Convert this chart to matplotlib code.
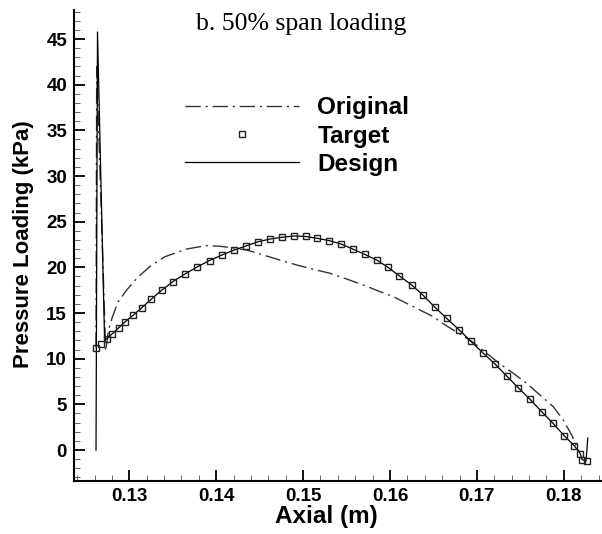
import matplotlib
matplotlib.use("Agg")
import matplotlib.pyplot as plt
from matplotlib.ticker import MultipleLocator

# ---- data ----
target_x = [0.12617, 0.12674, 0.12738, 0.12801, 0.12876, 0.12956, 0.13048, 0.13146,
            0.13255, 0.13376, 0.13503, 0.13641, 0.13779, 0.13923, 0.14067, 0.14205,
            0.14343, 0.14484, 0.14619, 0.14754, 0.14895, 0.15030, 0.15163, 0.15302,
            0.15436, 0.15571, 0.15712, 0.15847, 0.15977, 0.16109, 0.16250, 0.16383,
            0.16518, 0.16652, 0.16797, 0.16929, 0.17067, 0.17208, 0.17343, 0.17476,
            0.17611, 0.17746, 0.17876, 0.18008, 0.18123, 0.18192, 0.18209, 0.18267]
target_y = [11.22, 11.61, 12.15, 12.70, 13.36, 14.07, 14.78, 15.60,
            16.53, 17.52, 18.45, 19.27, 20.04, 20.75, 21.35, 21.90,
            22.34, 22.81, 23.10, 23.29, 23.43, 23.38, 23.18, 22.92,
            22.56, 22.01, 21.41, 20.80, 20.00, 19.05, 18.07, 16.92,
            15.62, 14.42, 13.14, 11.93, 10.65, 9.42, 8.10, 6.82,
            5.55, 4.19, 2.92, 1.53, 0.44, -0.44, -1.04, -1.20]

design_x = [0.12617, 0.12634, 0.12715, 0.12738, 0.12801, 0.12876, 0.12956, 0.13048,
            0.13146, 0.13255, 0.13376, 0.13503, 0.13641, 0.13779, 0.13923, 0.14067,
            0.14205, 0.14343, 0.14484, 0.14619, 0.14754, 0.14895, 0.15030, 0.15163,
            0.15302, 0.15436, 0.15571, 0.15712, 0.15847, 0.15977, 0.16109, 0.16250,
            0.16383, 0.16518, 0.16652, 0.16797, 0.16929, 0.17067, 0.17208, 0.17343,
            0.17476, 0.17611, 0.17746, 0.17876, 0.18008, 0.18123, 0.18192, 0.18209,
            0.18256, 0.18276]
design_y = [0.0, 45.77, 12.26, 12.15, 12.70, 13.36, 14.07, 14.78,
            15.60, 16.53, 17.52, 18.45, 19.27, 20.04, 20.75, 21.35,
            21.90, 22.34, 22.81, 23.10, 23.29, 23.43, 23.38, 23.18,
            22.92, 22.56, 22.01, 21.41, 20.80, 20.00, 19.05, 18.07,
            16.92, 15.62, 14.42, 13.14, 11.93, 10.65, 9.42, 8.10,
            6.82, 5.55, 4.19, 2.92, 1.53, 0.44, -0.44, -1.04,
            -1.20, 1.31]

original_x = [0.12617, 0.12625, 0.12728, 0.12761, 0.12801, 0.12870, 0.12970, 0.13100,
              0.13258, 0.13411, 0.13661, 0.13891, 0.14044, 0.14197, 0.14351, 0.14542,
              0.14734, 0.14926, 0.15117, 0.15310, 0.15502, 0.15693, 0.15887, 0.16038,
              0.16230, 0.16498, 0.16652, 0.16806, 0.16958, 0.17113, 0.17266, 0.17419,
              0.17573, 0.17726, 0.17879, 0.17994, 0.18091, 0.18148, 0.18181]
original_y = [11.22, 41.97, 10.84, 13.14, 14.45, 16.20, 17.52, 18.94,
              20.26, 21.17, 22.01, 22.39, 22.31, 22.12, 21.90, 21.35,
              20.80, 20.26, 19.79, 19.35, 18.72, 18.07, 17.33, 16.79,
              15.88, 14.60, 13.58, 12.70, 11.77, 10.59, 9.42, 8.40,
              7.30, 6.02, 4.74, 3.28, 1.64, 0.36, -0.22]

x_ticks = [0.13, 0.14, 0.15, 0.16, 0.17, 0.18]
x_tick_labels = ["0.13", "0.14", "0.15", "0.16", "0.17", "0.18"]
y_ticks = [0, 5, 10, 15, 20, 25, 30, 35, 40, 45]
y_tick_labels = [str(v) for v in y_ticks]

# ---- figure ----
W, H = 602, 534
fig = plt.figure(figsize=(W / 100, H / 100), dpi=100)
ax = fig.add_axes([74 / W, (H - 481) / H, (602 - 74) / W, (481 - 10) / H])

sans = ["Liberation Sans", "DejaVu Sans"]
serif = ["Liberation Serif", "DejaVu Serif"]

ax.plot(original_x, original_y, color="#333333", lw=1.0,
        dashes=(11, 3.5, 1.5, 3.5), label="Original", zorder=2)
ax.plot(target_x, target_y, linestyle="none", marker="s", markersize=4.5,
        markerfacecolor="none", markeredgecolor="#222222", markeredgewidth=1.0,
        label="Target", zorder=3)
ax.plot(design_x, design_y, color="black", lw=0.9, label="Design", zorder=2)

ax.set_xlim(0.123636, 0.184396)
ax.set_ylim(-3.394, 48.18)

for s in ("top", "right"):
    ax.spines[s].set_visible(False)
for s in ("left", "bottom"):
    ax.spines[s].set_linewidth(1.5)

ax.set_xticks(x_ticks)
ax.set_xticklabels(x_tick_labels)
ax.set_yticks(y_ticks)
ax.set_yticklabels(y_tick_labels)
ax.xaxis.set_minor_locator(MultipleLocator(0.002))
ax.yaxis.set_minor_locator(MultipleLocator(1))
ax.tick_params(which="major", direction="in", length=8.2, width=1.3,
               labelsize=13.5, pad=5)
ax.tick_params(which="minor", direction="in", length=4.5, width=0.7,
               color="#666666")
for lab in ax.get_xticklabels() + ax.get_yticklabels():
    lab.set_fontfamily(sans)
    lab.set_fontweight("bold")

ax.set_xlabel("Axial (m)", fontsize=17.5, fontweight="bold", family=sans)
ax.xaxis.label.set_verticalalignment("baseline")
ax.xaxis.set_label_coords(326 / W, (H - 523) / H, transform=fig.transFigure)

ax.set_ylabel("Pressure Loading (kPa)", fontsize=16, fontweight="bold", family=sans)
ax.yaxis.label.set_verticalalignment("center")
ax.yaxis.set_label_coords(24 / W, (H - 244.5) / H, transform=fig.transFigure)

fig.text(301.5 / W, (H - 30) / H, "b. 50% span loading", ha="center",
         va="baseline", fontsize=18.5, family=serif)

leg = ax.legend(loc="center left", bbox_to_anchor=(185 / W, (H - 136) / H),
                bbox_transform=fig.transFigure, frameon=False,
                prop={"family": sans, "weight": "bold", "size": 17.5},
                handlelength=4.7, handletextpad=0.75, labelspacing=0.22,
                borderpad=0, borderaxespad=0)

fig.savefig("out.png", dpi=100)
